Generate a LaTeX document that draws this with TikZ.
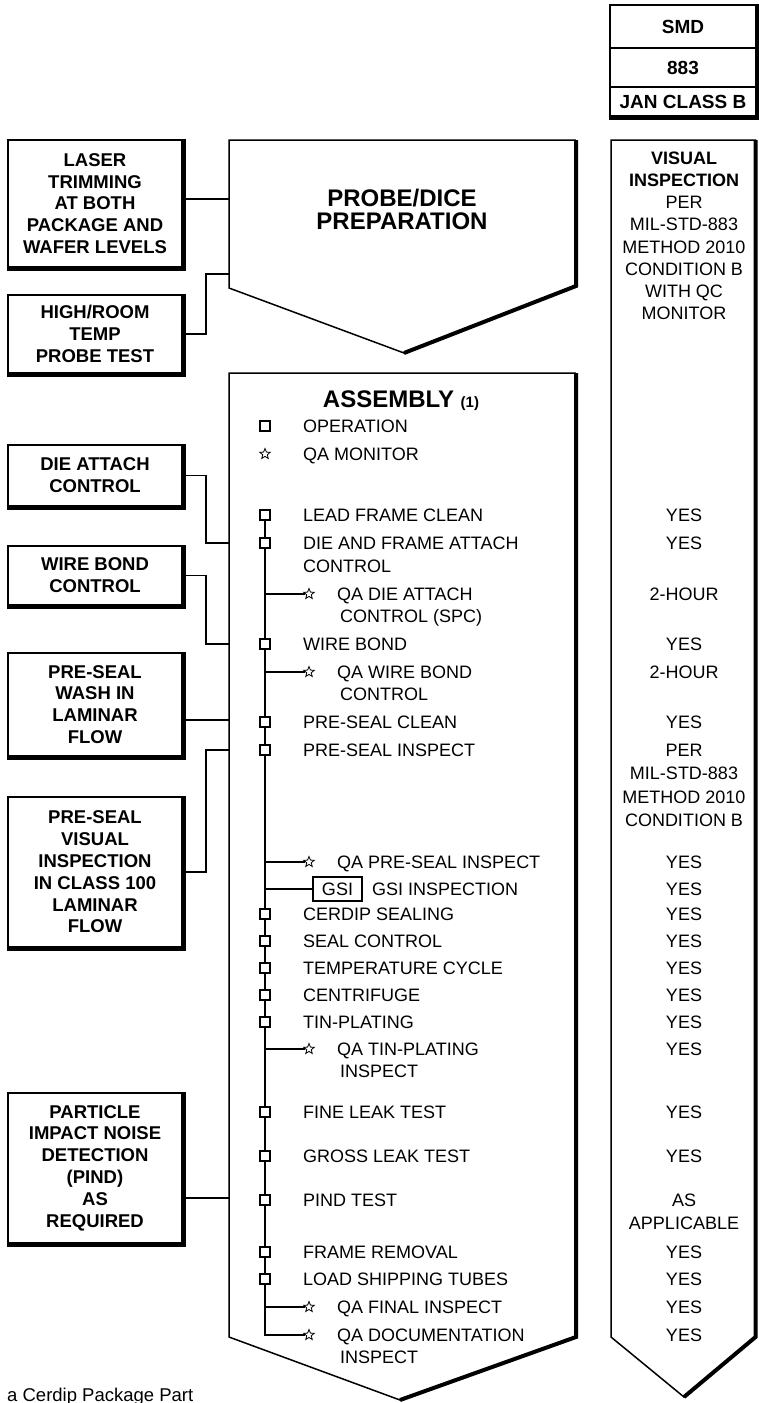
\documentclass[tikz,border=0pt]{standalone}
\usepackage{fontspec}
\setmainfont{Liberation Sans}
\usetikzlibrary{shapes.geometric}
\tikzset{
  fr/.style={line width=1.5pt},
  heavy/.style={line width=4pt},
  conn/.style={line width=1.6pt},
  lbox/.style={draw, fr, minimum width=174pt, align=center, inner sep=0pt, font=\bfseries\fontsize{18.5}{21.8}\selectfont},
  hbox/.style={draw, fr, minimum width=146pt, inner sep=0pt, font=\bfseries\fontsize{19}{21}\selectfont},
  txt/.style={anchor=west, inner sep=0pt, text height=12.9pt, text depth=0pt, font=\fontsize{18}{21}\selectfont},
  val/.style={anchor=center, inner sep=0pt, text height=12.9pt, text depth=0pt, font=\fontsize{18}{21}\selectfont},
  opsq/.style={draw, fill=white, line width=1.1pt, minimum width=10pt, minimum height=10pt, inner sep=0pt},
  qastar/.style={star, star points=5, star point ratio=2.3, draw, line width=0.8pt, minimum size=11pt, inner sep=0pt},
}
\begin{document}
\begin{tikzpicture}[x=1pt,y=-1pt]
\useasboundingbox (0,0) rectangle (759,1403);
\clip (0,0) rectangle (759,1403);

% ---------- header boxes (top right)
\node[hbox, minimum height=43pt] (smd) at (683,26.5) {SMD};
\node[hbox, minimum height=39pt] (m883) at (683,67.5) {883};
\node[hbox, minimum height=29pt] (jan) at (683,101.5) {JAN CLASS B};
\draw[heavy] ([xshift=1.3pt]smd.north east) -- ([xshift=1.3pt,yshift=-1.3pt]jan.south east) -- ([yshift=-1.3pt]jan.south west);

% ---------- probe/dice preparation
\draw[fr] (229,140) -- (575,140) -- (575,286) -- (404,353) -- (229,288) -- cycle;
\draw[heavy] (576,140) -- (576,286) -- (404,353);
\node[align=center, inner sep=0pt, font=\bfseries\fontsize{24}{23}\selectfont] (probe) at (402,209) {PROBE/DICE\\PREPARATION};

% ---------- assembly
\draw[fr] (229,373) -- (575,373) -- (575,1337) -- (400,1400) -- (229,1337) -- cycle;
\draw[heavy] (576,373) -- (576,1337) -- (400,1400);
\node[anchor=base, inner sep=0pt] (asm) at (401,407.6) {\bfseries\fontsize{24}{24}\selectfont ASSEMBLY \fontsize{15}{15}\selectfont(1)};

% legend
\node[opsq] (lsq) at (265,426) {};
\node[txt] (lop) at (303,426) {OPERATION};
\node[qastar] (lst) at (265,454) {};
\node[txt] (lqa) at (303,454) {QA MONITOR};

% ---------- right column
\draw[fr] (611,140) -- (755.5,140) -- (755.5,1337) -- (684,1397) -- (611,1337) -- cycle;
\draw[heavy] (755.5,140) -- (755.5,1337) -- (684,1397);
\node[align=center, anchor=north, inner sep=0pt, font=\fontsize{18}{22.2}\selectfont] (visinsp) at (684,151.5)
  {\textbf{VISUAL}\\\textbf{INSPECTION}\\PER\\MIL-STD-883\\METHOD 2010\\CONDITION B\\WITH QC\\MONITOR};
\foreach \y/\t [count=\i] in {515/YES, 543/YES, 594/2-HOUR, 644/YES, 672/2-HOUR, 722/YES,
  750/PER, 773/MIL-STD-883, 797/METHOD 2010, 820/CONDITION B, 862/YES, 889/YES, 914/YES,
  941/YES, 968/YES, 995/YES, 1022/YES, 1049/YES, 1112/YES, 1156/YES, 1200/AS, 1223/APPLICABLE,
  1252/YES, 1279/YES, 1307/YES, 1335/YES}
  \node[val] (v\i) at (684,\y) {\t};

% ---------- left boxes
\node[lbox, minimum height=127pt] (laser) at (95,203.5) {LASER\\TRIMMING\\AT BOTH\\PACKAGE AND\\WAFER LEVELS};
\node[lbox, minimum height=78pt] (highroom) at (95,334) {HIGH/ROOM\\TEMP\\PROBE TEST};
\node[lbox, minimum height=61pt] (dieatt) at (95,475.5) {DIE ATTACH\\CONTROL};
\node[lbox, minimum height=59pt] (wireb) at (95,575.5) {WIRE BOND\\CONTROL};
\node[lbox, minimum height=103pt] (wash) at (95,704.5) {PRE-SEAL\\WASH IN\\LAMINAR\\FLOW};
\node[lbox, minimum height=150pt] (pvis) at (95,872) {PRE-SEAL\\VISUAL\\INSPECTION\\IN CLASS 100\\LAMINAR\\FLOW};
\node[lbox, minimum height=150pt] (pind) at (95,1168) {PARTICLE\\IMPACT NOISE\\DETECTION\\(PIND)\\AS\\REQUIRED};
\foreach \n in {laser,highroom,dieatt,wireb,wash,pvis,pind}
  \draw[heavy] ([xshift=1.3pt]\n.north east) -- ([xshift=1.3pt,yshift=-1.3pt]\n.south east) -- ([yshift=-1.3pt]\n.south west);

% join points on the left edges
\coordinate (j1) at (229,199);
\coordinate (j2) at (229,274);
\coordinate (j3) at (229,543);
\coordinate (j4) at (229,644);
\coordinate (j5) at (229,720);
\coordinate (j6) at (229,750);
\coordinate (j7) at (229,1198);
\draw[conn] (laser.east |- j1) -- (j1);
\draw[conn] (highroom.east) -- ++(23,0) |- (j2);
\draw[conn] (dieatt.east) -- ++(23,0) |- (j3);
\draw[conn] (wireb.east) -- ++(23,0) |- (j4);
\draw[conn] (wash.east |- j5) -- (j5);
\draw[conn] (pvis.east) -- ++(23,0) |- (j6);
\draw[conn] (pind.east |- j7) -- (j7);

% ---------- QA monitor items
\foreach \y/\t [count=\i] in {594/QA DIE ATTACH, 672/QA WIRE BOND, 862/QA PRE-SEAL INSPECT,
  1049/QA TIN-PLATING, 1307/QA FINAL INSPECT, 1335/QA DOCUMENTATION} {
  \node[qastar] (qa\i) at (309,\y) {};
  \node[txt] (qt\i) at (337,\y) {\t};
}
\foreach \y/\t [count=\i] in {616/CONTROL (SPC), 694/CONTROL, 1071/INSPECT, 1357/INSPECT}
  \node[txt] (qs\i) at (340,\y) {\t};

% GSI
\node[draw, line width=1.1pt, minimum width=49pt, minimum height=24pt, inner sep=0pt, font=\fontsize{18}{21}\selectfont] (gsi) at (337.5,889) {GSI};
\node[txt] (gsit) at (372,889) {GSI INSPECTION};

% chain and branches
\coordinate (ctop) at (265,515);
\draw[conn] (ctop) -- (ctop |- qa6) -- (qa6.west);
\foreach \i in {1,...,5}
  \draw[conn] (qa\i -| ctop) -- (qa\i.west);
\draw[conn] (gsi -| ctop) -- (gsi.west);

% ---------- operations
\foreach \y/\t [count=\i] in {515/LEAD FRAME CLEAN, 543/DIE AND FRAME ATTACH, 644/WIRE BOND,
  722/PRE-SEAL CLEAN, 750/PRE-SEAL INSPECT, 914/CERDIP SEALING, 941/SEAL CONTROL,
  968/TEMPERATURE CYCLE, 995/CENTRIFUGE, 1022/TIN-PLATING, 1112/FINE LEAK TEST,
  1156/GROSS LEAK TEST, 1200/PIND TEST, 1252/FRAME REMOVAL, 1279/LOAD SHIPPING TUBES} {
  \node[opsq] (sq\i) at (265,\y) {};
  \node[txt] (op\i) at (303,\y) {\t};
}
\node[txt] (op2b) at (303,566) {CONTROL};

% ---------- caption
\node[anchor=base west, inner sep=0pt, font=\fontsize{18.5}{20}\selectfont] (caption) at (7,1401) {a Cerdip Package Part};
\end{tikzpicture}
\end{document}
